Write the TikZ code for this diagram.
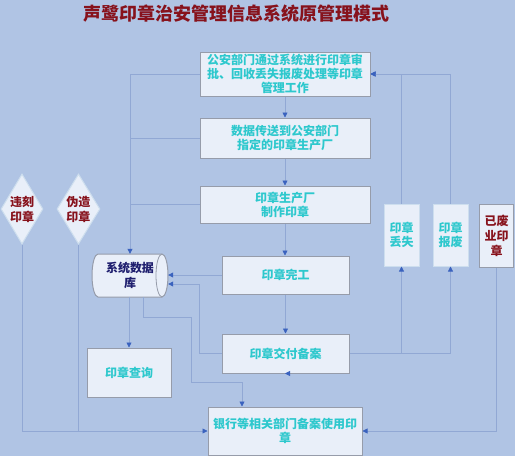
\documentclass[tikz,border=0pt]{standalone}
\usepackage{fontspec}
\newfontfamily\cjk{Noto Sans CJK SC}
\usetikzlibrary{arrows.meta,shapes.geometric,calc}
\definecolor{bgc}{RGB}{176,196,228}
\definecolor{lnc}{RGB}{145,168,212}
\definecolor{arrc}{RGB}{58,98,190}
\definecolor{boxf}{RGB}{233,239,249}
\definecolor{boxd}{RGB}{150,156,170}
\definecolor{lightd}{RGB}{205,222,238}
\definecolor{tealtxt}{RGB}{45,200,205}
\definecolor{redtxt}{RGB}{135,18,28}
\definecolor{navytxt}{RGB}{30,30,110}
\tikzset{
  box/.style={draw=boxd, line width=1pt, fill=boxf, inner sep=0pt, align=center,
    font=\cjk\bfseries\fontsize{12}{14}\selectfont, text=tealtxt},
  smallbox/.style={box, draw=lightd},
  redbox/.style={box, text=redtxt, font=\cjk\bfseries\fontsize{12}{15}\selectfont},
  dia/.style={diamond, aspect=0.6, draw=lightd, line width=1pt, fill=boxf, inner sep=0pt,
    align=center, text=redtxt, font=\cjk\bfseries\fontsize{12}{15}\selectfont},
  dbtext/.style={inner sep=0pt, align=center, text=navytxt,
    font=\cjk\bfseries\fontsize{12}{15}\selectfont, minimum width=76pt, minimum height=43pt},
  titlestyle/.style={inner sep=0pt, text=redtxt, font=\cjk\bfseries\fontsize{18}{20}\selectfont},
  ln/.style={draw=lnc, line width=0.8pt},
  arr/.style={draw=lnc, line width=0.8pt, -{Triangle[length=5pt,width=5pt,color=arrc]}}
}
\begin{document}
\begin{tikzpicture}[x=1pt,y=-1pt]
\useasboundingbox[fill=bgc] (0,0) rectangle (515,456);
\node[titlestyle] (T) at (236.5,14) {声鹭印章治安管理信息系统原管理模式};

\node[box, minimum width=170, minimum height=44] (A) at (285,74) {公安部门通过系统进行印章审\\批、回收丢失报废处理等印章\\管理工作};
\node[box, minimum width=170, minimum height=40] (B) at (285,138) {数据传送到公安部门\\指定的印章生产厂};
\node[box, minimum width=170, minimum height=37] (C) at (285,204.5) {印章生产厂\\制作印章};
\node[box, minimum width=127, minimum height=38] (D) at (285.5,275) {印章完工};
\node[box, minimum width=127, minimum height=39] (E) at (285.5,353.5) {印章交付备案};
\node[box, minimum width=84, minimum height=49] (F) at (129,372.5) {印章查询};
\node[box, minimum width=154, minimum height=48] (G) at (285,431) {银行等相关部门备案使用印\\章};

\node[smallbox, minimum width=35, minimum height=62] (L) at (401.5,235) {印章\\丢失};
\node[smallbox, minimum width=35, minimum height=62] (S) at (450.5,235) {印章\\报废};
\node[redbox, minimum width=34, minimum height=63] (Y) at (496.5,235.5) {已废\\业印\\章};

\node[dia, minimum width=42, minimum height=70] (V) at (22,209) {违刻\\印章};
\node[dia, minimum width=43, minimum height=70] (W) at (78.5,209) {伪造\\印章};

% database cylinder
\filldraw[fill=boxf, draw=boxd, line width=1pt] (98,254) -- (162,254)
  arc[start angle=90, end angle=-90, x radius=6pt, y radius=21.5pt] -- (98,297)
  arc[start angle=270, end angle=90, x radius=6pt, y radius=21.5pt] -- cycle;
\draw[boxd, line width=0.8pt] (162,254) arc[start angle=90, end angle=270, x radius=6pt, y radius=21.5pt];
\node[dbtext] (db) at (130,275.5) {系统数据\\库};

% main chain
\draw[arr] (A.south) -- (B.north);
\draw[arr] (B.south) -- (C.north);
\draw[arr] (C.south) -- (C.south |- D.north);
\draw[arr] (D.south) -- (E.north);
\draw[arr] (E.south) -- (E.south -| G.north);

% to database
\draw[arr] (A.west) -| (db.north);
\draw[ln] (B.west) -- (B.west -| db.north);
\draw[ln] (C.west) -- (C.west -| db.north);
\draw[arr] (D.west) -- (D.west -| db.east);
\draw[arr] (E.west) -- ++(-22,0) |- ([yshift=-8.5pt]db.east);

% from database
\draw[arr] (db.south -| F.north) -- (F.north);
\coordinate (g1) at (191,317);
\coordinate (g2) at (242,382);
\draw[arr] ([xshift=13pt]db.south) |- (g1) |- (g2) -- (g2 |- G.north);

% diamonds to bank
\draw[arr] (V.south) |- (G.west);
\draw[ln] (W.south) -- (W.south |- G.west);

% right side
\draw[arr] (Y.south) |- (G.east);
\draw[ln] (E.east) -- (E.east -| S.south);
\draw[arr] (E.east -| L.south) -- (L.south);
\draw[arr] (E.east -| S.south) -- (S.south);
\draw[arr] (L.north) |- (A.east);
\draw[arr] (S.north) |- (A.east);
\end{tikzpicture}
\end{document}
